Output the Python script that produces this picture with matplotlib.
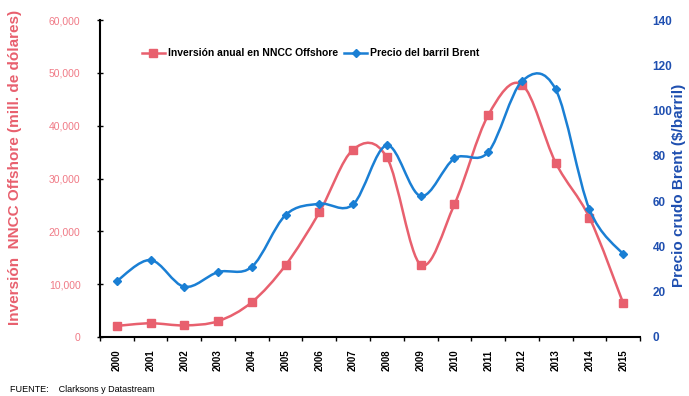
import numpy as np
import matplotlib
matplotlib.use("Agg")
import matplotlib.pyplot as plt
from matplotlib.path import Path
from matplotlib.patches import PathPatch
from matplotlib.lines import Line2D

plt.rcParams['font.family'] = ['Liberation Sans Narrow', 'Liberation Sans', 'DejaVu Sans']

years = ['2000', '2001', '2002', '2003', '2004', '2005', '2006', '2007',
         '2008', '2009', '2010', '2011', '2012', '2013', '2014', '2015']
# inversion anual en NNCC offshore, millones de dolares
inversion = [2100, 2600, 2200, 3000, 6600, 13600, 23600, 35500,
             34000, 13700, 25100, 42000, 47800, 33000, 22600, 6400]
# precio del barril Brent, $/barril
brent = [24.7, 34.0, 22.2, 28.7, 31.0, 53.9, 58.9, 58.6,
         84.7, 62.3, 78.9, 81.7, 113.0, 109.4, 56.4, 36.5]

pink = '#e8606e'
blue = '#1a7fd4'
blue_txt = '#1f4fb0'
pink_txt = '#f07a86'


def smooth_path(xs, ys):
    # bezier segments through every point, like a spreadsheet "smoothed line"
    pts = np.column_stack([xs, ys]).astype(float)
    ext = np.vstack([pts[0], pts, pts[-1]])
    verts = [pts[0]]
    codes = [Path.MOVETO]
    for i in range(len(pts) - 1):
        p0, p1, p2, p3 = ext[i], ext[i + 1], ext[i + 2], ext[i + 3]
        c1 = p1 + (p2 - p0) / 6.0
        c2 = p2 - (p3 - p1) / 6.0
        verts += [c1, c2, p2]
        codes += [Path.CURVE4] * 3
    return Path(verts, codes)


fig = plt.figure(figsize=(6.89, 3.96), dpi=100)
ax = fig.add_axes([0.145, 0.149, 0.784, 0.80])
ax2 = ax.twinx()

x = np.arange(len(years))

ax.add_patch(PathPatch(smooth_path(x, inversion), facecolor='none',
                       edgecolor=pink, lw=1.8, zorder=2))
ax.plot(x, inversion, ls='none', marker='s', ms=6, color=pink, zorder=3)

ax2.add_patch(PathPatch(smooth_path(x, brent), facecolor='none',
                        edgecolor=blue, lw=1.8, zorder=2))
ax2.plot(x, brent, ls='none', marker='D', ms=4.5, color=blue, zorder=3)

ax.set_xlim(-0.5, len(years) - 0.5)
ax.set_ylim(0, 60000)
ax2.set_ylim(0, 140)

ax.set_xticks(x)
ax.set_xticklabels(years, rotation=90, fontsize=7, fontweight='bold')
ax.set_xticks(np.arange(-0.5, len(years), 1.0), minor=True)
ax.tick_params(axis='x', which='major', length=0, pad=9)
ax.tick_params(axis='x', which='minor', length=3, width=1, direction='out')

ax.set_yticks(np.arange(0, 60001, 10000))
ax.set_yticklabels(['0'] + ['{:,}'.format(v) for v in range(10000, 60001, 10000)])
ax.tick_params(axis='y', length=4, width=1, direction='inout', pad=12,
               labelsize=7.5, labelcolor=pink_txt)

ax2.set_yticks(np.arange(0, 141, 20))
ax2.tick_params(axis='y', length=0, pad=9, labelsize=8.5, labelcolor=blue_txt)
for t in ax2.get_yticklabels():
    t.set_fontweight('bold')

for a in (ax, ax2):
    a.spines['top'].set_visible(False)
    a.spines['right'].set_visible(False)
ax.spines['left'].set_linewidth(1.5)
ax.spines['bottom'].set_linewidth(1.5)
ax2.spines['left'].set_visible(False)
ax2.spines['bottom'].set_visible(False)

ax.set_ylabel('Inversión  NNCC Offshore (mill. de dólares)', color=pink,
              fontsize=11, fontweight='bold', va='center')
ax.yaxis.set_label_coords(-0.158, 0.535)
ax2.set_ylabel('Precio crudo Brent ($/barril)', color=blue_txt,
               fontsize=11, fontweight='bold', va='center')
ax2.yaxis.set_label_coords(1.072, 0.48)

handles = [
    Line2D([], [], color=pink, lw=1.8, marker='s', ms=6),
    Line2D([], [], color=blue, lw=1.8, marker='D', ms=4.5),
]
leg = ax.legend(handles, ['Inversión anual en NNCC Offshore', 'Precio del barril Brent'],
                ncol=2, loc='center', bbox_to_anchor=(0.39, 0.895), frameon=False,
                prop={'size': 7.5, 'weight': 'bold'}, handlelength=2.2,
                handletextpad=0.3, columnspacing=0.6)

fig.text(0.015, 0.01, 'FUENTE:    Clarksons y Datastream', fontsize=6.5)

fig.savefig('out.png', dpi=100)
